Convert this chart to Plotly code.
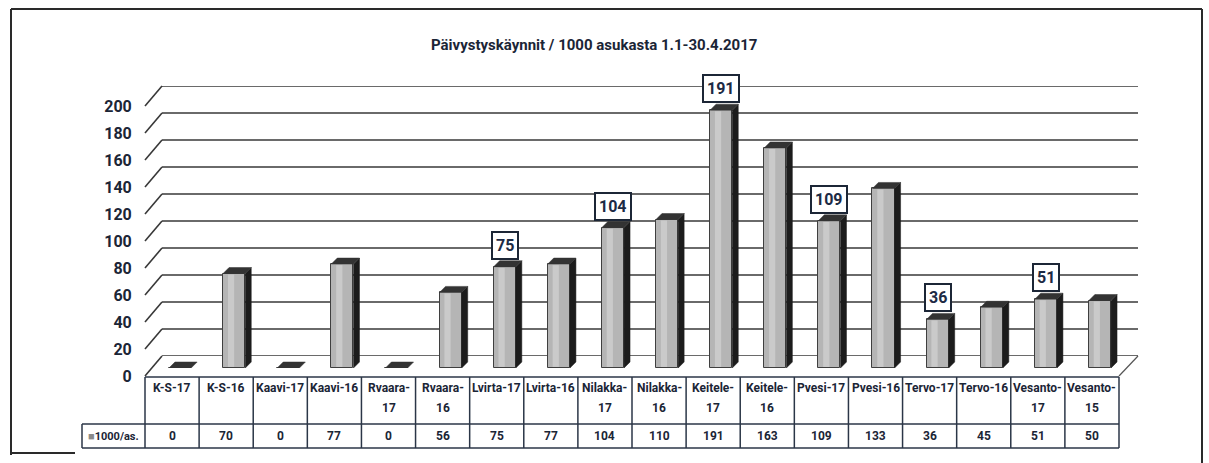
import plotly.graph_objects as go

# ---------------- data ----------------
categories = ["K-S-17", "K-S-16", "Kaavi-17", "Kaavi-16", "Rvaara-17", "Rvaara-16",
              "Lvirta-17", "Lvirta-16", "Nilakka-17", "Nilakka-16", "Keitele-17",
              "Keitele-16", "Pvesi-17", "Pvesi-16", "Tervo-17", "Tervo-16",
              "Vesanto-17", "Vesanto-15"]
values = [0, 70, 0, 77, 0, 56, 75, 77, 104, 110, 191, 163, 109, 133, 36, 45, 51, 50]
wrapped = [False, False, False, False, True, True, False, False, True, True, True, True,
           False, False, False, False, True, True]
labelled = ["Lvirta-17", "Nilakka-17", "Keitele-17", "Pvesi-17", "Tervo-17", "Vesanto-17"]
y_ticks = [0, 20, 40, 60, 80, 100, 120, 140, 160, 180, 200]
series_name = "1000/as."
title = "Päivystyskäynnit / 1000 asukasta 1.1-30.4.2017"

# ---------------- layout constants ----------------
W, H = 1209, 463
FONT = "Roboto, Liberation Sans, sans-serif"
TXT = "#1b2536"
LINE = "#383838"


def px(x):
    return x / W


def py(y):
    return 1 - y / H


K = 1.35          # px per value unit
YMAX = 200
BACK_X0, BACK_X1, BACK_Y0 = 162, 1138, 356
FRONT_X0, FRONT_Y0 = 145, 376
BAR_X0, BAR_X1, BAR_Y0 = 153, 1127, 368
TAB_X0, TAB_X1 = 145, 1119
TAB_Y0, TAB_Y1, TAB_Y2 = 377, 424, 448
LEG_X0 = 82
n = len(categories)
col_w = (TAB_X1 - TAB_X0) / n
unit_x = (BAR_X1 - BAR_X0) / n
BAR_W = 0.41
DEPTH = 6
ddx = DEPTH / unit_x
ddy = DEPTH / K

fig = go.Figure()

# back wall subplot
fig.add_trace(go.Scatter(x=[0], y=[0], mode="markers", marker=dict(opacity=0),
                         hoverinfo="skip", showlegend=False, xaxis="x", yaxis="y"))
# bars subplot
fig.add_trace(go.Bar(x=list(range(n)), y=values, width=BAR_W, name=series_name,
                     customdata=categories,
                     hovertemplate="%{customdata}: %{y}<extra></extra>",
                     marker=dict(color="#b5b5b5", line=dict(color="#3f3f3f", width=1)),
                     showlegend=False, xaxis="x2", yaxis="y2"))
# front tick-label axis
fig.add_trace(go.Scatter(x=[0], y=[0], mode="markers", marker=dict(opacity=0),
                         hoverinfo="skip", showlegend=False, xaxis="x3", yaxis="y3"))

hidden = dict(showgrid=False, showticklabels=False, zeroline=False, showline=False,
              ticks="", automargin=False)

fig.update_layout(
    width=W, height=H, margin=dict(l=0, r=0, t=0, b=0, pad=0, autoexpand=False),
    paper_bgcolor="white", plot_bgcolor="rgba(0,0,0,0)",
    bargap=0,
    xaxis=dict(domain=[px(BACK_X0), px(BACK_X1)], range=[0, 1], anchor="y", **hidden),
    yaxis=dict(domain=[py(BACK_Y0), py(BACK_Y0 - K * YMAX)], range=[0, YMAX], anchor="x",
               **hidden),
    xaxis2=dict(domain=[px(BAR_X0), px(BAR_X1)], range=[-0.5, n - 0.5], anchor="y2", **hidden),
    yaxis2=dict(domain=[py(BAR_Y0), py(BAR_Y0 - K * YMAX)], range=[0, YMAX], anchor="x2", **hidden),
    xaxis3=dict(domain=[px(FRONT_X0), px(FRONT_X0 + 100)], range=[0, 1], anchor="y3", **hidden),
    yaxis3=dict(domain=[py(FRONT_Y0), py(FRONT_Y0 - K * YMAX)], range=[0, YMAX], anchor="x3",
                tickvals=y_ticks, ticktext=[str(t) for t in y_ticks], showgrid=False,
                zeroline=False, showline=False, ticks="outside", ticklen=9,
                tickcolor="rgba(0,0,0,0)", automargin=False,
                tickfont=dict(family=FONT, size=16, color=TXT, weight="bold")),
)

shapes = []
# back wall gridlines (on back-wall axis scale)
for t in y_ticks:
    shapes.append(dict(type="line", xref="x domain", yref="y", x0=0, x1=1, y0=t, y1=t,
                       layer="below", line=dict(color=LINE, width=1.6)))
# side-wall slanted lines
for t in y_ticks:
    shapes.append(dict(type="line", xref="paper", yref="paper",
                       x0=px(FRONT_X0), y0=py(FRONT_Y0 - K * t),
                       x1=px(BACK_X0), y1=py(BACK_Y0 - K * t),
                       layer="below", line=dict(color=LINE, width=1.6)))
# floor right edge
shapes.append(dict(type="line", xref="paper", yref="paper",
                   x0=px(TAB_X1), y0=py(FRONT_Y0), x1=px(BACK_X1), y1=py(BACK_Y0),
                   layer="below", line=dict(color="#555555", width=1.2)))

# 3D faces of bars
for i, v in enumerate(values):
    xl, xr = i - BAR_W / 2, i + BAR_W / 2
    if v > 0:
        side = f"M {xr},0 L {xr + ddx},{ddy} L {xr + ddx},{v + ddy} L {xr},{v} Z"
        shapes.append(dict(type="path", xref="x2", yref="y2", path=side,
                           fillcolor="#1c1c1c", line=dict(color="#1c1c1c", width=0.5)))
        # light highlight stripe on the front face
        shapes.append(dict(type="rect", xref="x2", yref="y2",
                           x0=xl + BAR_W * 0.22, x1=xl + BAR_W * 0.5, y0=0.8, y1=v - 0.8,
                           fillcolor="#d0d0d0", line=dict(width=0), opacity=0.8))
    top = f"M {xl},{v} L {xr},{v} L {xr + ddx},{v + ddy} L {xl + ddx},{v + ddy} Z"
    shapes.append(dict(type="path", xref="x2", yref="y2", path=top,
                       fillcolor="#333333", line=dict(color="#333333", width=0.5)))

# table grid
TCOL = "#2b3647"
for y, x0 in [(TAB_Y0, TAB_X0), (TAB_Y1, LEG_X0), (TAB_Y2, LEG_X0)]:
    shapes.append(dict(type="line", xref="paper", yref="paper", x0=px(x0), x1=px(TAB_X1),
                       y0=py(y), y1=py(y), line=dict(color=TCOL, width=1.5)))
for i in range(n + 1):
    xx = TAB_X0 + i * col_w
    shapes.append(dict(type="line", xref="paper", yref="paper", x0=px(xx), x1=px(xx),
                       y0=py(TAB_Y0), y1=py(TAB_Y2), line=dict(color=TCOL, width=1.5)))
shapes.append(dict(type="line", xref="paper", yref="paper", x0=px(LEG_X0), x1=px(LEG_X0),
                   y0=py(TAB_Y1), y1=py(TAB_Y2), line=dict(color=TCOL, width=1.5)))

# outer frame
FCOL = "#2a2a2a"
shapes += [
    dict(type="line", xref="paper", yref="paper", x0=px(11), x1=px(11), y0=py(9), y1=py(455),
         line=dict(color=FCOL, width=2)),
    dict(type="line", xref="paper", yref="paper", x0=px(11), x1=px(1202), y0=py(9), y1=py(9),
         line=dict(color=FCOL, width=2)),
    dict(type="line", xref="paper", yref="paper", x0=px(1202), x1=px(1202), y0=py(9), y1=py(463),
         line=dict(color=FCOL, width=2)),
    dict(type="line", xref="paper", yref="paper", x0=px(11), x1=px(75), y0=py(453), y1=py(453),
         line=dict(color=FCOL, width=2)),
]

annotations = []
annotations.append(dict(xref="paper", yref="paper", x=px(594), y=py(45), text=title,
                        showarrow=False, xanchor="center", yanchor="middle",
                        font=dict(family=FONT, size=15, color=TXT, weight="bold")))

# table category labels and values
for i, (name, v) in enumerate(zip(categories, values)):
    cx = px(TAB_X0 + (i + 0.5) * col_w)
    if wrapped[i]:
        k = name.rfind("-")
        lines = [name[:k + 1], name[k + 1:]]
    else:
        lines = [name]
    for j, ln in enumerate(lines):
        annotations.append(dict(xref="paper", yref="paper", x=cx, y=py(388 + 20 * j), text=ln,
                                showarrow=False, xanchor="center", yanchor="middle",
                                font=dict(family=FONT, size=12, color=TXT, weight="bold")))
    annotations.append(dict(xref="paper", yref="paper", x=cx, y=py((TAB_Y1 + TAB_Y2) / 2),
                            text=str(v), showarrow=False, xanchor="center", yanchor="middle",
                            font=dict(family=FONT, size=12, color=TXT, weight="bold")))
annotations.append(dict(xref="paper", yref="paper", x=px((LEG_X0 + TAB_X0) / 2),
                        y=py((TAB_Y1 + TAB_Y2) / 2),
                        text="<span style='color:#8a8a8a'>■</span>" + series_name,
                        showarrow=False, xanchor="center", yanchor="middle",
                        font=dict(family=FONT, size=11, color=TXT, weight="bold")))

# data labels
for i, (name, v) in enumerate(zip(categories, values)):
    if name in labelled:
        annotations.append(dict(xref="x2", yref="y2", x=i, y=v + ddy, text=str(v),
                                showarrow=False, xanchor="center", yanchor="bottom",
                                yshift=1, bgcolor="white", bordercolor="#1c2636",
                                borderwidth=2, borderpad=3,
                                font=dict(family=FONT, size=16, color="#1c2a44", weight="bold")))

fig.update_layout(shapes=shapes, annotations=annotations)
fig.write_html("out.html")
